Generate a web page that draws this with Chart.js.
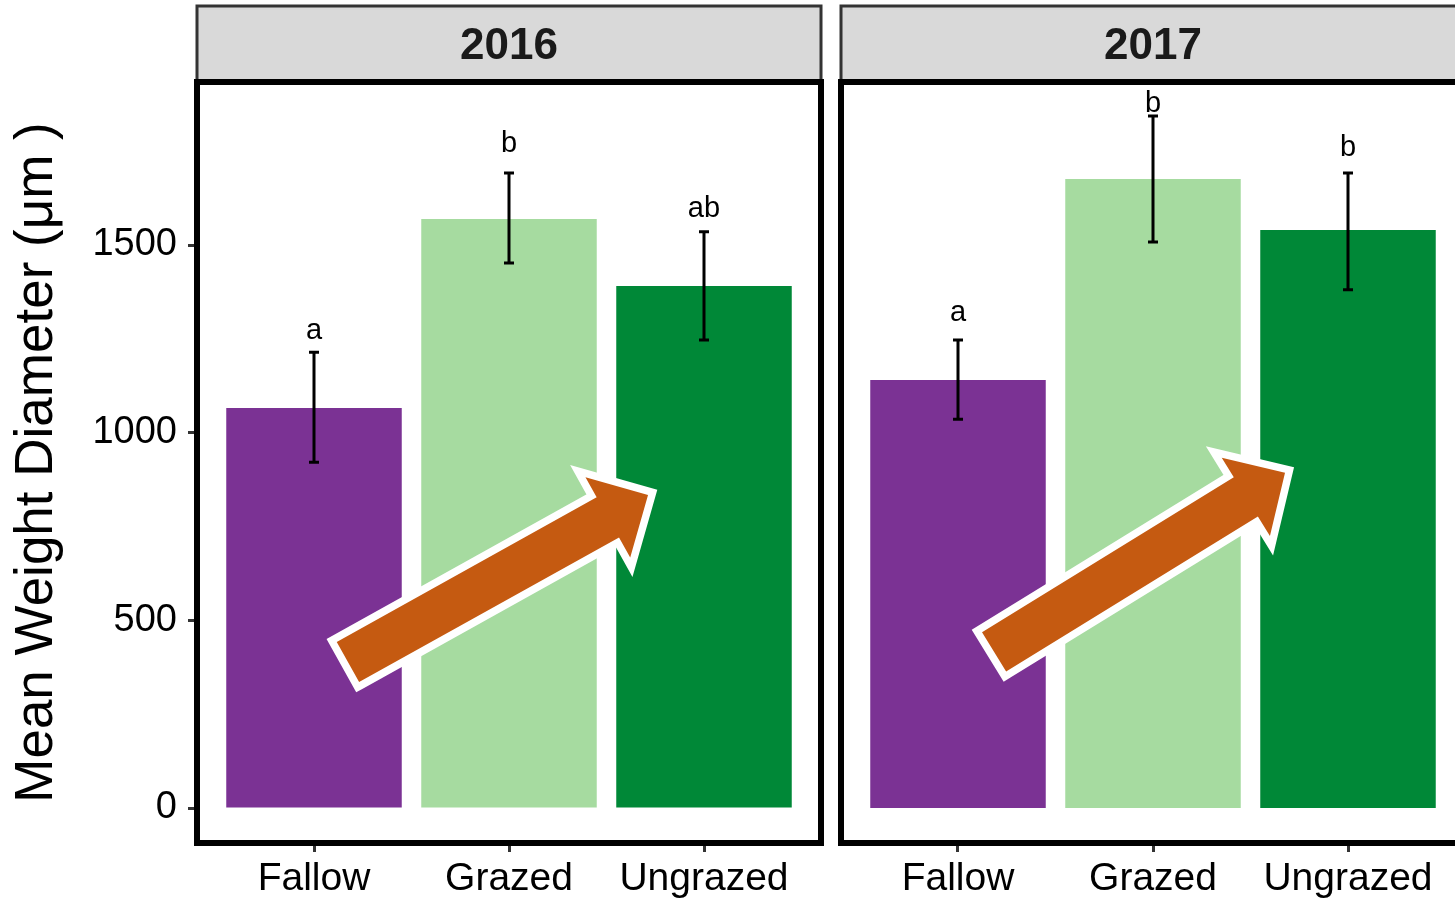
<!DOCTYPE html>
<html>
<head>
<meta charset="utf-8">
<script src="https://cdn.jsdelivr.net/npm/chart.js@4.4.1/dist/chart.umd.min.js"></script>
<style>
  html, body { margin: 0; padding: 0; background: #fff; overflow: hidden; width: 1455px; height: 902px; }
  .panel { position: absolute; top: 0; height: 902px; }
</style>
</head>
<body>
<div class="panel" style="left:0;width:831px;"><canvas id="c2016" width="831" height="902"></canvas></div>
<div class="panel" style="left:831px;width:645px;"><canvas id="c2017" width="645" height="902"></canvas></div>
<script>
// categories and tick labels
const categories = ['Fallow', 'Grazed', 'Ungrazed'];
const barColors = ['#7B3294', '#A6DBA0', '#008837'];
const yTicks = [0, 500, 1000, 1500];

// 2016 values (mean weight diameter, µm)
const mwd2016 = [1066, 1569, 1391];
const lower2016 = [921, 1452, 1247];
const upper2016 = [1214, 1692, 1535];
const letters2016 = ['a', 'b', 'ab'];
const letterY2016 = [1272, 1768, 1595];

// 2017 values
const mwd2017 = [1140, 1676, 1540];
const lower2017 = [1036, 1508, 1381];
const upper2017 = [1247, 1844, 1692];
const letters2017 = ['a', 'b', 'b'];
const letterY2017 = [1318, 1877, 1759];

// arrow annotations, [category position, value]
const arrowFrom2016 = [1.174, 389];
const arrowTo2016 = [2.713, 834];
const arrowFrom2017 = [1.185, 416];
const arrowTo2017 = [2.677, 893];

const FONT = '"Liberation Sans", Arial, Helvetica, sans-serif';
Chart.defaults.font.family = FONT;

function drawArrow(ctx, x0, y0, x1, y1) {
    const shaftW = 46, headW = 92, headL = 46;
    const len = Math.hypot(x1 - x0, y1 - y0);
    const ux = (x1 - x0) / len, uy = (y1 - y0) / len;
    const nx = -uy, ny = ux;
    const bx = x1 - ux * headL, by = y1 - uy * headL;
    const pts = [
        [x0 + nx * shaftW / 2, y0 + ny * shaftW / 2],
        [bx + nx * shaftW / 2, by + ny * shaftW / 2],
        [bx + nx * headW / 2, by + ny * headW / 2],
        [x1, y1],
        [bx - nx * headW / 2, by - ny * headW / 2],
        [bx - nx * shaftW / 2, by - ny * shaftW / 2],
        [x0 - nx * shaftW / 2, y0 - ny * shaftW / 2]
    ];
    ctx.beginPath();
    pts.forEach((p, i) => i ? ctx.lineTo(p[0], p[1]) : ctx.moveTo(p[0], p[1]));
    ctx.closePath();
    ctx.lineJoin = 'miter';
    ctx.miterLimit = 10;
    ctx.lineWidth = 15;
    ctx.strokeStyle = '#ffffff';
    ctx.stroke();
    ctx.fillStyle = '#C55A11';
    ctx.fill();
}

function makeChart(id, year, values, lower, upper, letters, letterY, arrowFrom, arrowTo, showY) {
    const ctx = document.getElementById(id).getContext('2d');

    const extras = {
        id: 'extras' + year,
        afterDatasetsDraw(chart) {
            const c = chart.ctx;
            const xs = chart.scales.x, ys = chart.scales.y;
            c.save();
            // error bars
            c.strokeStyle = '#000';
            c.lineWidth = 3;
            values.forEach((v, i) => {
                const x = xs.getPixelForValue(i + 1);
                const yl = ys.getPixelForValue(lower[i]);
                const yu = ys.getPixelForValue(upper[i]);
                c.beginPath();
                c.moveTo(x, yl); c.lineTo(x, yu);
                c.moveTo(x - 5, yl); c.lineTo(x + 5, yl);
                c.moveTo(x - 5, yu); c.lineTo(x + 5, yu);
                c.stroke();
            });
            // significance letters
            c.fillStyle = '#000';
            c.font = '29px ' + FONT;
            c.textAlign = 'center';
            c.textBaseline = 'middle';
            letters.forEach((t, i) => {
                c.fillText(t, xs.getPixelForValue(i + 1), ys.getPixelForValue(letterY[i]));
            });
            // arrow
            drawArrow(c,
                xs.getPixelForValue(arrowFrom[0]), ys.getPixelForValue(arrowFrom[1]),
                xs.getPixelForValue(arrowTo[0]), ys.getPixelForValue(arrowTo[1]));
            c.restore();
        },
        afterDraw(chart) {
            const c = chart.ctx;
            const a = chart.chartArea;
            c.save();
            // strip
            c.fillStyle = '#D9D9D9';
            c.fillRect(a.left, 6, a.right - a.left, a.top - 6);
            c.strokeStyle = '#333333';
            c.lineWidth = 3;
            c.strokeRect(a.left, 6, a.right - a.left, a.top - 6);
            c.fillStyle = '#1A1A1A';
            c.font = 'bold 44px ' + FONT;
            c.textAlign = 'center';
            c.textBaseline = 'middle';
            c.fillText(year, (a.left + a.right) / 2, 47);
            // panel border
            c.strokeStyle = '#000';
            c.lineWidth = 6;
            c.strokeRect(a.left, a.top, a.right - a.left, a.bottom - a.top);
            c.restore();
        }
    };

    return new Chart(ctx, {
        type: 'bar',
        data: {
            datasets: [{
                data: values.map((v, i) => ({ x: i + 1, y: v })),
                backgroundColor: barColors,
                borderWidth: 0,
                categoryPercentage: 1.0,
                barPercentage: 0.9
            }]
        },
        options: {
            responsive: false,
            animation: false,
            events: [],
            layout: {
                padding: { left: showY ? 0 : 10, right: showY ? 10 : 11, top: 82, bottom: 0 }
            },
            scales: {
                x: {
                    type: 'linear',
                    min: 0.4,
                    max: 3.6,
                    offset: false,
                    afterBuildTicks: (s) => { s.ticks = categories.map((c, i) => ({ value: i + 1 })); },
                    afterFit: (s) => { s.height = 59; },
                    grid: {
                        offset: false,
                        drawOnChartArea: false,
                        tickLength: 9,
                        tickWidth: 3,
                        tickColor: '#333333'
                    },
                    border: { display: false },
                    ticks: {
                        color: '#000',
                        padding: 4,
                        maxRotation: 0,
                        autoSkip: false,
                        font: { size: 39 },
                        callback: (v) => categories[v - 1]
                    }
                },
                y: {
                    display: showY,
                    min: -93.25,
                    max: 1934.3,
                    afterBuildTicks: (s) => { s.ticks = yTicks.map(v => ({ value: v })); },
                    afterFit: (s) => { s.width = showY ? 197 : 0; },
                    grid: {
                        drawOnChartArea: false,
                        tickLength: 9,
                        tickWidth: 3,
                        tickColor: '#333333'
                    },
                    border: { display: false },
                    ticks: {
                        color: '#000',
                        padding: 11,
                        font: { size: 38 },
                        callback: (v) => String(v)
                    },
                    title: {
                        display: true,
                        text: 'Mean Weight Diameter (μm )',
                        color: '#000',
                        font: { size: 53 },
                        padding: { top: 6, bottom: 0 }
                    }
                }
            },
            plugins: {
                legend: { display: false },
                tooltip: { enabled: false }
            }
        },
        plugins: [extras]
    });
}

makeChart('c2016', '2016', mwd2016, lower2016, upper2016, letters2016, letterY2016, arrowFrom2016, arrowTo2016, true);
makeChart('c2017', '2017', mwd2017, lower2017, upper2017, letters2017, letterY2017, arrowFrom2017, arrowTo2017, false);
</script>
</body>
</html>
